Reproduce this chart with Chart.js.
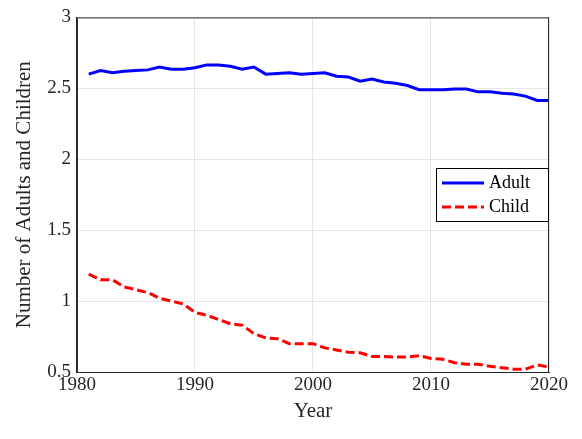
<!DOCTYPE html>
<html>
<head>
<meta charset="utf-8">
<script src="https://cdn.jsdelivr.net/npm/chart.js@4"></script>
<style>
  html, body { margin: 0; padding: 0; background: #fff; }
  #wrap { width: 582px; height: 439px; }
</style>
</head>
<body>
<div id="wrap"><canvas id="c"></canvas></div>
<script>
const years = [];
for (let y = 1981; y <= 2020; y++) years.push(y);

const adult = [2.60, 2.625, 2.61, 2.62, 2.625, 2.63, 2.65, 2.635, 2.635, 2.645,
  2.665, 2.665, 2.655, 2.635, 2.65, 2.60, 2.605, 2.61, 2.60, 2.605,
  2.61, 2.585, 2.58, 2.55, 2.565, 2.545, 2.535, 2.52, 2.49, 2.49,
  2.49, 2.495, 2.495, 2.475, 2.475, 2.465, 2.46, 2.445, 2.415, 2.415];

const child = [1.19, 1.15, 1.15, 1.10, 1.08, 1.06, 1.02, 1.00, 0.98, 0.92,
  0.90, 0.87, 0.84, 0.83, 0.77, 0.74, 0.735, 0.70, 0.70, 0.70,
  0.67, 0.655, 0.64, 0.635, 0.61, 0.61, 0.605, 0.605, 0.615, 0.595,
  0.59, 0.565, 0.555, 0.555, 0.54, 0.53, 0.52, 0.52, 0.55, 0.535];

const FONT = "'Liberation Serif', 'Times New Roman', serif";

// box around plot + legend inside
const insideLegend = {
  id: "insideLegend",
  afterDraw(chart) {
    const { ctx, chartArea: a } = chart;
    ctx.save();
    ctx.strokeStyle = "#262626";
    ctx.lineWidth = 1;
    ctx.strokeRect(a.left + 0.5, a.top + 0.5, a.right - a.left - 1, a.bottom - a.top);
    const w = 113, h = 54;
    const x = a.right - w, y = 168;
    ctx.fillStyle = "#fff";
    ctx.fillRect(x, y, w, h);
    ctx.strokeStyle = "#000";
    ctx.strokeRect(x + 0.5, y + 0.5, w - 1, h - 1);
    ctx.font = "18px " + FONT;
    ctx.textBaseline = "middle";
    chart.data.datasets.forEach((ds, i) => {
      const ly = y + 15 + i * 24;
      ctx.strokeStyle = ds.borderColor;
      ctx.lineWidth = 3;
      ctx.setLineDash(ds.borderDash || []);
      ctx.beginPath();
      ctx.moveTo(x + 6, ly);
      ctx.lineTo(x + 48, ly);
      ctx.stroke();
      ctx.setLineDash([]);
      ctx.fillStyle = "#000";
      ctx.fillText(ds.label, x + 53, ly);
    });
    ctx.restore();
  }
};

new Chart(document.getElementById("c"), {
  type: "line",
  data: {
    datasets: [
      {
        label: "Adult",
        data: years.map((y, i) => ({ x: y, y: adult[i] })),
        borderColor: "#0000ff",
        borderWidth: 3,
        pointRadius: 0,
        tension: 0
      },
      {
        label: "Child",
        data: years.map((y, i) => ({ x: y, y: child[i] })),
        borderColor: "#ff0000",
        borderWidth: 3,
        borderDash: [9, 4],
        pointRadius: 0,
        tension: 0
      }
    ]
  },
  options: {
    responsive: true,
    maintainAspectRatio: false,
    animation: false,
    layout: { padding: { top: 9, right: 33, left: 8, bottom: 11 } },
    scales: {
      x: {
        type: "linear",
        min: 1980,
        max: 2020,
        ticks: {
          stepSize: 10,
          color: "#262626",
          font: { family: FONT, size: 19 },
          maxRotation: 0,
          padding: 2,
          callback: v => String(v)
        },
        grid: { color: "#e6e6e6", tickLength: 0 },
        border: { color: "#262626" },
        title: {
          display: true,
          text: "Year",
          color: "#262626",
          font: { family: FONT, size: 21 },
          padding: { top: 0 }
        }
      },
      y: {
        min: 0.5,
        max: 3,
        ticks: {
          stepSize: 0.5,
          color: "#262626",
          font: { family: FONT, size: 19 },
          padding: 6,
          callback: v => String(v)
        },
        grid: { color: "#e6e6e6", tickLength: 0 },
        border: { color: "#262626" },
        title: {
          display: true,
          text: "Number of Adults and Children",
          color: "#262626",
          font: { family: FONT, size: 21 },
          padding: { bottom: 4 }
        }
      }
    },
    plugins: {
      legend: { display: false },
      tooltip: { enabled: false }
    }
  },
  plugins: [insideLegend]
});
</script>
</body>
</html>
